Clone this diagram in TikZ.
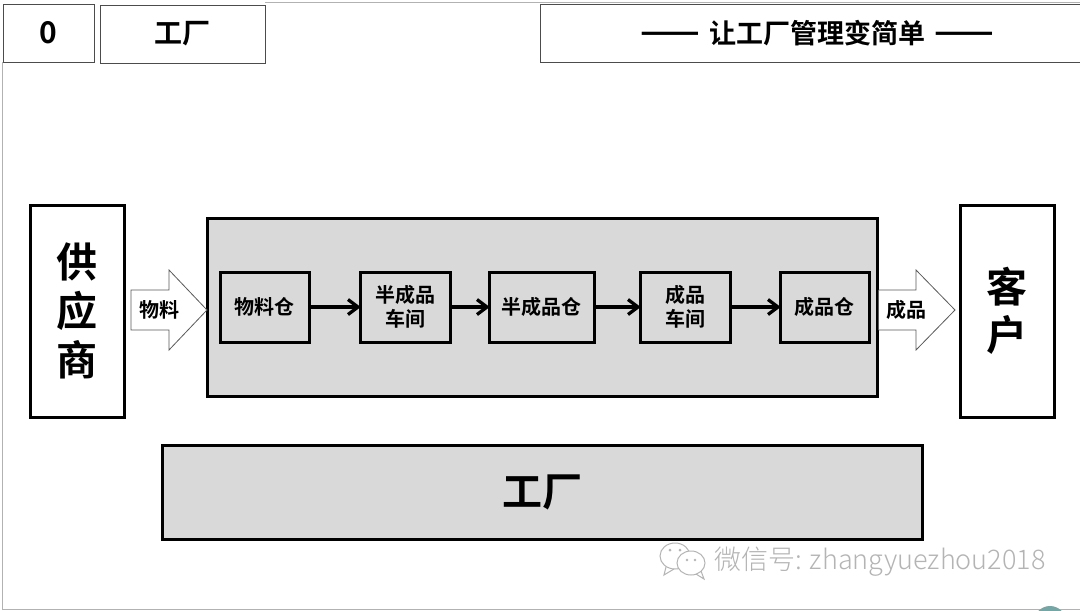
\documentclass[tikz,border=0pt]{standalone}
\usepackage{fontspec}
\setmainfont{Noto Sans CJK SC}[BoldFont={* Bold}]
\newfontfamily\wmfont{Noto Sans CJK SC}[UprightFont={* Light}]
\definecolor{panel}{HTML}{D9D9D9}
\definecolor{wm}{HTML}{B4B4B4}
\tikzset{
  px/.style={x=1pt,y=-1pt},
  heavy/.style={draw=black,line width=3pt,rectangle,inner sep=0pt,outer sep=0pt,anchor=north west,align=center,font=\bfseries},
  sbox/.style={heavy,fill=panel,line width=3pt,font=\bfseries\fontsize{20}{24}\selectfont},
  hdr/.style={draw=black!70,line width=1pt,rectangle,inner sep=0pt,outer sep=0pt,anchor=north west,align=center,font=\bfseries},
  flow/.style={line width=3.3pt,black},
  barb/.style={line width=3.3pt,black,line join=miter},
  blockarrow/.style={draw=black!65,line width=.8pt,fill=white},
  blabel/.style={font=\bfseries\fontsize{20}{24}\selectfont,inner sep=0pt},
  edge/.style={draw=black!30,line width=1pt},
}
\newcommand{\flowlink}[2]{%
  \draw[flow] (#1.east) -- ([xshift=-2pt]#2.west);
  \draw[barb] ([xshift=-12pt,yshift=-7.5pt]#2.west) -- ([xshift=-2pt]#2.west) -- ([xshift=-12pt,yshift=7.5pt]#2.west);
}
\begin{document}
\begin{tikzpicture}[px]
\useasboundingbox (0,0) rectangle (1080,611);
\fill[white] (0,0) rectangle (1080,611);
% slide frame
\draw[edge] (2,62) -- (2,609) -- (1080,609);
\draw[edge] (265,2) -- (1080,2);
% header
\node[hdr,minimum width=91pt,minimum height=58pt,font=\bfseries\fontsize{30}{34}\selectfont] (idx) at (3,4) {0};
\node[hdr,minimum width=165pt,minimum height=58pt,font=\bfseries\fontsize{28}{34}\selectfont] (head) at (100,5) {工厂};
\node[hdr,minimum width=545pt,minimum height=58pt,font=\bfseries\fontsize{27}{32}\selectfont,text width=545pt] (title) at (540,4) {\hspace*{10pt}\scalebox{1.3}[1.25]{——} 让工厂管理变简单 \scalebox{1.3}[1.25]{——}};
% main panels
\node[heavy,minimum width=94pt,minimum height=212pt,font=\bfseries\fontsize{41}{49}\selectfont] (sup) at (30,205) {供\\应\\商};
\node[heavy,fill=panel,minimum width=670pt,minimum height=178pt] (fac) at (207,218) {};
\node[heavy,minimum width=94pt,minimum height=212pt,font=\bfseries\fontsize{41}{48}\selectfont] (cus) at (960,205) {客\\户};
\node[heavy,fill=panel,minimum width=760pt,minimum height=94pt,font=\bfseries\fontsize{40}{48}\selectfont] (base) at (162,445) {工厂};
% inner stages
\node[sbox,minimum width=89pt,minimum height=70pt] (s1) at (220,272) {物料仓};
\node[sbox,minimum width=90pt,minimum height=70pt] (s2) at (360,272) {半成品\\车间};
\node[sbox,minimum width=105pt,minimum height=70pt] (s3) at (489,272) {半成品仓};
\node[sbox,minimum width=90pt,minimum height=70pt] (s4) at (640,272) {成品\\车间};
\node[sbox,minimum width=89pt,minimum height=70pt] (s5) at (780,272) {成品仓};
\flowlink{s1}{s2}
\flowlink{s2}{s3}
\flowlink{s3}{s4}
\flowlink{s4}{s5}
% block arrows
\draw[blockarrow] (131,290) -- (169,290) -- (169,270) -- (fac.west |- 0,310) -- (169,350) -- (169,330) -- (131,330) -- cycle;
\node[blabel] (lin) at (159,310) {物料};
\draw[blockarrow] ([xshift=1.5pt]fac.east |- 0,290) -- (916,290) -- (916,270) -- (955,310) -- (916,350) -- (916,330) -- ([xshift=1.5pt]fac.east |- 0,330);
\node[blabel] (lout) at (906,310) {成品};
% watermark
\begin{scope}[draw=wm,line width=1pt,fill=white]
  \filldraw (675,556) ellipse (15pt and 13pt);
  \draw (666,567) -- (664,575) -- (674,569);
  \filldraw (691,563) ellipse (14pt and 12pt);
  \draw (696,574) -- (704,579) -- (701,571);
  \fill[wm] (670,550) circle (1.5pt) (680,550) circle (1.5pt) (687,560) circle (1.3pt) (695,560) circle (1.3pt);
\end{scope}
\node[anchor=west,inner sep=0pt,text=wm,font=\wmfont\fontsize{27}{32}\selectfont] (mark) at (714,562) {微信号: zhangyuezhou2018};
% corner badge
\begin{scope}
  \clip (1030,600) rectangle (1070,611);
  \fill[teal!55!gray!70] (1050,622) circle (16pt);
\end{scope}
\end{tikzpicture}
\end{document}
